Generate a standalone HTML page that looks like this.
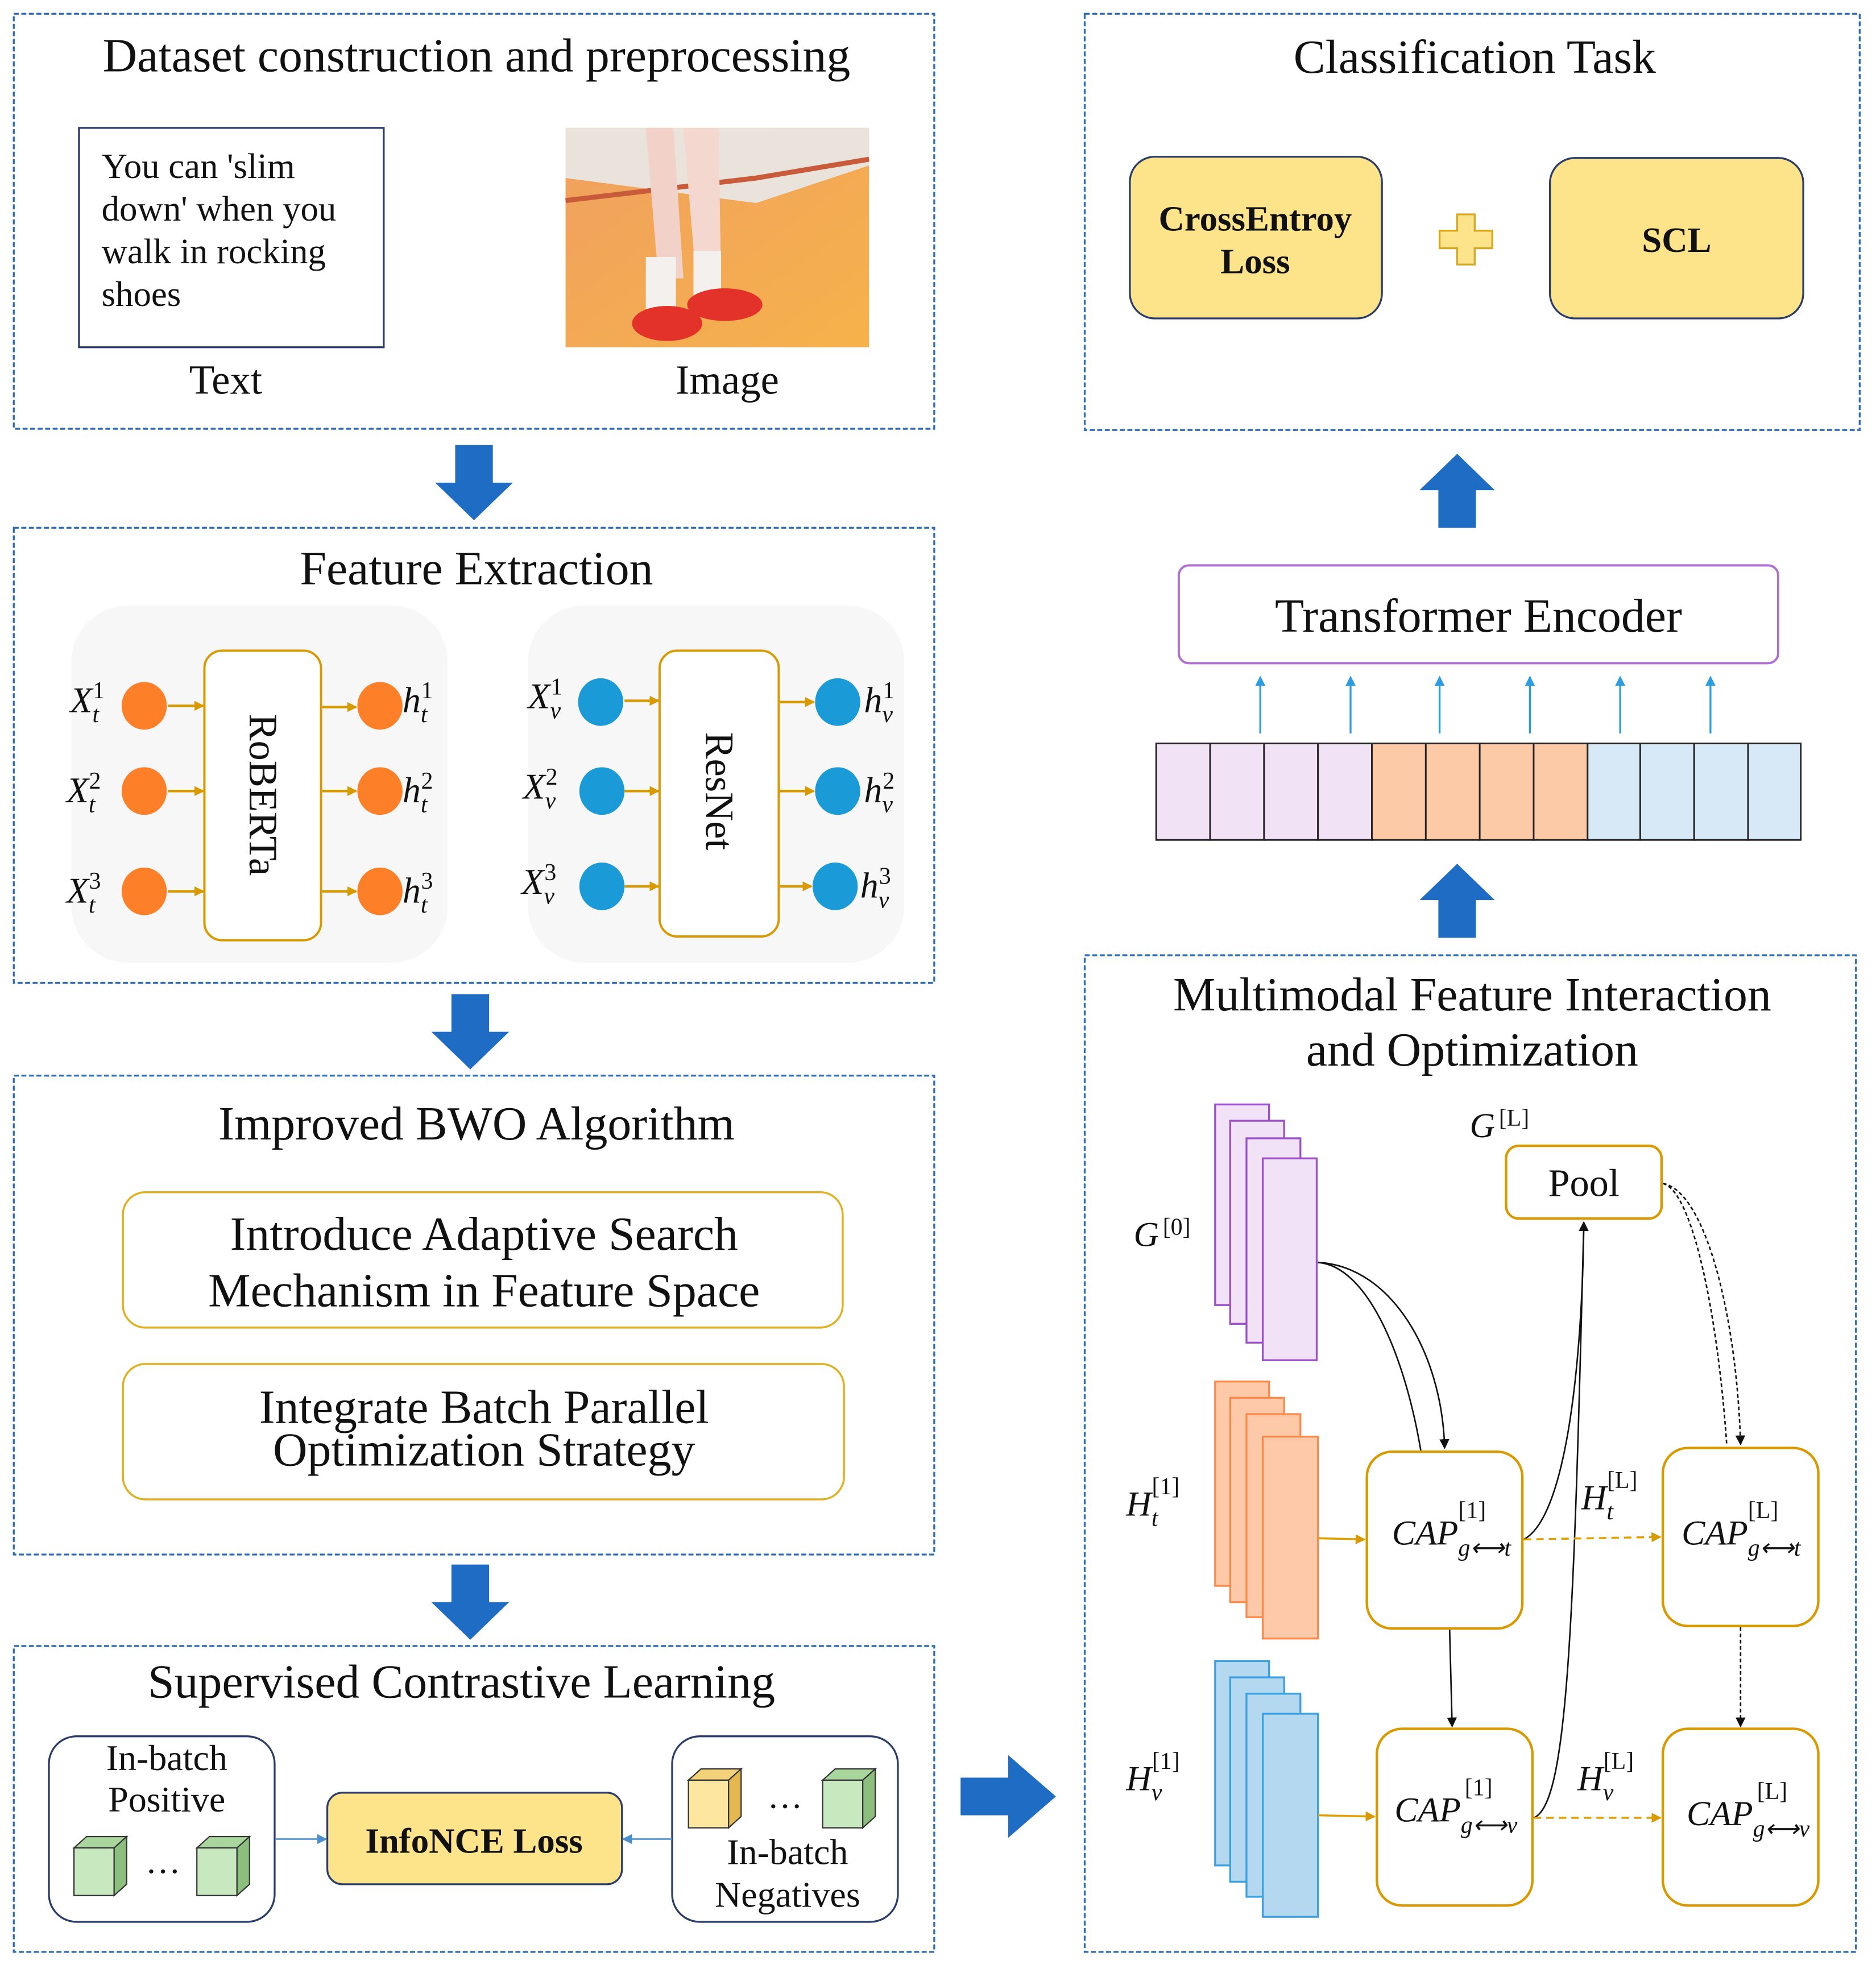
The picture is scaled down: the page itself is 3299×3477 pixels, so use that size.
<!DOCTYPE html>
<html><head><meta charset="utf-8"><style>
html,body{margin:0;padding:0;background:#fff}
svg{display:block}
text{font-family:"Liberation Serif",serif;fill:#111}
.it{font-style:italic}
</style></head><body>
<svg width="3299" height="3477" viewBox="0 0 1496 1577" preserveAspectRatio="none" xmlns="http://www.w3.org/2000/svg">
<defs>
<marker id="ao" markerWidth="8" markerHeight="8" refX="7" refY="4" orient="auto" markerUnits="userSpaceOnUse"><path d="M0,0L8,4L0,8z" fill="#d89a00"/></marker>
<marker id="ak" markerWidth="8" markerHeight="8" refX="7" refY="4" orient="auto" markerUnits="userSpaceOnUse"><path d="M0,0L8,4L0,8z" fill="#111"/></marker>
<marker id="ab" markerWidth="8" markerHeight="8" refX="7" refY="4" orient="auto" markerUnits="userSpaceOnUse"><path d="M0,0L8,4L0,8z" fill="#2b9de0"/></marker>
<marker id="abl" markerWidth="8" markerHeight="8" refX="7" refY="4" orient="auto" markerUnits="userSpaceOnUse"><path d="M0,0L8,4L0,8z" fill="#4a90d0"/></marker>
<linearGradient id="floor" x1="0" y1="0" x2="1" y2="1"><stop offset="0" stop-color="#f0a060"/><stop offset="1" stop-color="#f6b24a"/></linearGradient>
</defs>
<g fill="none" stroke="#2e6db5" stroke-width="1.5" stroke-dasharray="4,2">
<rect x="11" y="11" width="734" height="331"/>
<rect x="11" y="421" width="734" height="363"/>
<rect x="11" y="858" width="734" height="382"/>
<rect x="11" y="1313" width="734" height="244"/>
<rect x="865" y="11" width="618" height="332"/>
<rect x="865" y="762" width="615" height="795"/>
</g>
<g fill="#1f6cc4">
<path d="M363,355h30v30h16l-31,30l-31,-30h16z"/>
<path d="M360,793h30v30h16l-31,30l-31,-30h16z"/>
<path d="M360,1248h30v30h16l-31,30l-31,-30h16z"/>
<path d="M766,1418h38v-18l38,33l-38,33v-18h-38z"/>
<path d="M1147,421h30v-30h15l-30,-29l-30,29h15z"/>
<path d="M1147,748h30v-30h15l-30,-29l-30,29h15z"/>
</g>
<!-- box 1 -->
<text x="380" y="57" font-size="38" text-anchor="middle">Dataset construction and preprocessing</text>
<rect x="63" y="102" width="243" height="175" fill="#fff" stroke="#2a3c6a" stroke-width="1.5"/>
<text font-size="28.5"><tspan x="81" y="142">You can 'slim</tspan><tspan x="81" y="176">down' when you</tspan><tspan x="81" y="210">walk in rocking</tspan><tspan x="81" y="244">shoes</tspan></text>
<text x="180" y="314" font-size="33" text-anchor="middle">Text</text>
<rect x="451" y="102" width="242" height="175" fill="url(#floor)"/>
<path d="M451,102h242v30l-90,30l-152,-20z" fill="#e9e3dc"/>
<path d="M451,160l152,-18l90,-15" stroke="#c85c3a" stroke-width="4" fill="none"/>
<path d="M515,102l10,120h20l-8,-120z" fill="#f2d2c8"/>
<path d="M545,102l10,120h20l-2,-120z" fill="#f4d8cf"/>
<rect x="515" y="205" width="24" height="45" fill="#f4f0ee"/>
<rect x="553" y="200" width="22" height="40" fill="#f4f0ee"/>
<ellipse cx="532" cy="258" rx="28" ry="14" fill="#e3322a"/>
<ellipse cx="578" cy="243" rx="30" ry="13" fill="#e3322a"/>
<text x="580" y="314" font-size="33" text-anchor="middle">Image</text>
<!-- box 2 -->
<text x="380" y="466" font-size="38" text-anchor="middle">Feature Extraction</text>
<rect x="57" y="483" width="300" height="285" rx="45" fill="#f7f7f7"/>
<rect x="421" y="483" width="300" height="285" rx="45" fill="#f7f7f7"/>
<rect x="163" y="519" width="93" height="231" rx="14" fill="#fff" stroke="#d89a00" stroke-width="1.8"/>
<rect x="526" y="519" width="95" height="228" rx="14" fill="#fff" stroke="#d89a00" stroke-width="1.8"/>
<text transform="translate(199,634) rotate(90)" font-size="32" text-anchor="middle">RoBERTa</text>
<text transform="translate(563,631) rotate(90)" font-size="32" text-anchor="middle">ResNet</text>
<g fill="#fd7f27">
<ellipse cx="115" cy="563" rx="18" ry="19"/><ellipse cx="115" cy="631" rx="18" ry="19"/><ellipse cx="115" cy="711" rx="18" ry="19"/>
<ellipse cx="303" cy="563" rx="18" ry="19"/><ellipse cx="303" cy="631" rx="18" ry="19"/><ellipse cx="303" cy="711" rx="18" ry="19"/>
</g>
<g fill="#1a9ad6">
<ellipse cx="479" cy="560" rx="18" ry="19"/><ellipse cx="480" cy="631" rx="18" ry="19"/><ellipse cx="480" cy="707" rx="18" ry="19"/>
<ellipse cx="668" cy="560" rx="18" ry="19"/><ellipse cx="668" cy="631" rx="18" ry="19"/><ellipse cx="666" cy="707" rx="18" ry="19"/>
</g>
<g stroke="#d89a00" stroke-width="2" marker-end="url(#ao)">
<line x1="134" y1="563" x2="162" y2="563"/><line x1="134" y1="631" x2="162" y2="631"/><line x1="134" y1="711" x2="162" y2="711"/>
<line x1="257" y1="564" x2="284" y2="564"/><line x1="257" y1="631" x2="284" y2="631"/><line x1="257" y1="711" x2="284" y2="711"/>
<line x1="498" y1="559" x2="525" y2="559"/><line x1="498" y1="631" x2="525" y2="631"/><line x1="498" y1="707" x2="525" y2="707"/>
<line x1="622" y1="560" x2="649" y2="560"/><line x1="622" y1="631" x2="649" y2="631"/><line x1="622" y1="707" x2="647" y2="707"/>
</g>
<g font-size="29">
<text x="56" y="568" class="it">X<tspan font-size="19" dy="8">t</tspan><tspan font-size="19" dx="-5" dy="-19" font-style="normal">1</tspan></text>
<text x="53" y="640" class="it">X<tspan font-size="19" dy="8">t</tspan><tspan font-size="19" dx="-5" dy="-19" font-style="normal">2</tspan></text>
<text x="53" y="720" class="it">X<tspan font-size="19" dy="8">t</tspan><tspan font-size="19" dx="-5" dy="-19" font-style="normal">3</tspan></text>
<text x="321" y="568" class="it">h<tspan font-size="19" dy="8">t</tspan><tspan font-size="19" dx="-5" dy="-19" font-style="normal">1</tspan></text>
<text x="321" y="640" class="it">h<tspan font-size="19" dy="8">t</tspan><tspan font-size="19" dx="-5" dy="-19" font-style="normal">2</tspan></text>
<text x="321" y="720" class="it">h<tspan font-size="19" dy="8">t</tspan><tspan font-size="19" dx="-5" dy="-19" font-style="normal">3</tspan></text>
<text x="421" y="565" class="it">X<tspan font-size="19" dy="8">v</tspan><tspan font-size="19" dx="-8" dy="-19" font-style="normal">1</tspan></text>
<text x="417" y="637" class="it">X<tspan font-size="19" dy="8">v</tspan><tspan font-size="19" dx="-8" dy="-19" font-style="normal">2</tspan></text>
<text x="416" y="713" class="it">X<tspan font-size="19" dy="8">v</tspan><tspan font-size="19" dx="-8" dy="-19" font-style="normal">3</tspan></text>
<text x="689" y="568" class="it">h<tspan font-size="19" dy="8">v</tspan><tspan font-size="19" dx="-8" dy="-19" font-style="normal">1</tspan></text>
<text x="689" y="640" class="it">h<tspan font-size="19" dy="8">v</tspan><tspan font-size="19" dx="-8" dy="-19" font-style="normal">2</tspan></text>
<text x="686" y="716" class="it">h<tspan font-size="19" dy="8">v</tspan><tspan font-size="19" dx="-8" dy="-19" font-style="normal">3</tspan></text>
</g>
<!-- box 3 -->
<text x="380" y="909" font-size="38" text-anchor="middle">Improved BWO Algorithm</text>
<rect x="98" y="951" width="574" height="108" rx="18" fill="#fff" stroke="#e0b020" stroke-width="1.6"/>
<rect x="98" y="1088" width="575" height="108" rx="18" fill="#fff" stroke="#e0b020" stroke-width="1.6"/>
<text x="386" y="997" font-size="38" text-anchor="middle">Introduce Adaptive Search</text>
<text x="386" y="1042" font-size="38" text-anchor="middle">Mechanism in Feature Space</text>
<text x="386" y="1135" font-size="38" text-anchor="middle">Integrate Batch Parallel</text>
<text x="386" y="1169" font-size="38" text-anchor="middle">Optimization Strategy</text>
<!-- box 4 -->
<text x="368" y="1354" font-size="38" text-anchor="middle">Supervised Contrastive Learning</text>
<rect x="39" y="1385" width="180" height="148" rx="22" fill="#fff" stroke="#2a3c6a" stroke-width="1.5"/>
<rect x="536" y="1385" width="180" height="148" rx="22" fill="#fff" stroke="#2a3c6a" stroke-width="1.5"/>
<rect x="261" y="1430" width="235" height="73" rx="12" fill="#fde38a" stroke="#2a3c6a" stroke-width="1.5"/>
<text x="378" y="1478" font-size="28.5" font-weight="bold" text-anchor="middle">InfoNCE Loss</text>
<text x="133" y="1412" font-size="29" text-anchor="middle">In-batch</text>
<text x="133" y="1445" font-size="29" text-anchor="middle">Positive</text>
<text x="628" y="1487" font-size="29" text-anchor="middle">In-batch</text>
<text x="628" y="1521" font-size="29" text-anchor="middle">Negatives</text>
<text x="130" y="1494" font-size="28" text-anchor="middle">…</text>
<text x="626" y="1442" font-size="28" text-anchor="middle">…</text>
<g stroke="#333" stroke-width="1">
<path d="M59,1474l10,-9h32l-10,9z" fill="#a9d69c"/><rect x="59" y="1474" width="32" height="38" fill="#c8e8c0"/><path d="M91,1474l10,-9v38l-10,9z" fill="#8cbf7e"/>
<path d="M157,1474l10,-9h32l-10,9z" fill="#a9d69c"/><rect x="157" y="1474" width="32" height="38" fill="#c8e8c0"/><path d="M189,1474l10,-9v38l-10,9z" fill="#8cbf7e"/>
<path d="M549,1420l10,-9h32l-10,9z" fill="#f4d27a"/><rect x="549" y="1420" width="32" height="38" fill="#fde6a0"/><path d="M581,1420l10,-9v38l-10,9z" fill="#e4b850"/>
<path d="M656,1420l10,-9h32l-10,9z" fill="#a9d69c"/><rect x="656" y="1420" width="32" height="38" fill="#c8e8c0"/><path d="M688,1420l10,-9v38l-10,9z" fill="#8cbf7e"/>
</g>
<line x1="220" y1="1467" x2="260" y2="1467" stroke="#4a90d0" stroke-width="1.2" marker-end="url(#abl)"/>
<line x1="536" y1="1467" x2="497" y2="1467" stroke="#4a90d0" stroke-width="1.2" marker-end="url(#abl)"/>
<!-- classification -->
<text x="1176" y="58" font-size="38" text-anchor="middle">Classification Task</text>
<rect x="901" y="125" width="201" height="129" rx="20" fill="#fde38a" stroke="#2a3c6a" stroke-width="1.5"/>
<rect x="1236" y="126" width="202" height="128" rx="20" fill="#fde38a" stroke="#2a3c6a" stroke-width="1.5"/>
<text x="1001" y="184" font-size="28.5" font-weight="bold" text-anchor="middle">CrossEntroy</text>
<text x="1001" y="218" font-size="28.5" font-weight="bold" text-anchor="middle">Loss</text>
<text x="1337" y="201" font-size="28.5" font-weight="bold" text-anchor="middle">SCL</text>
<path d="M1162,171h14v13h14v14h-14v13h-14v-13h-14v-14h14z" fill="#fde38a" stroke="#d8a820" stroke-width="1.5"/>
<!-- transformer -->
<rect x="940" y="451" width="478" height="78" rx="8" fill="#fff" stroke="#b070d0" stroke-width="1.8"/>
<text x="1179" y="504" font-size="38" text-anchor="middle">Transformer Encoder</text>
<g stroke="#2b9de0" stroke-width="1.5" marker-end="url(#ab)">
<line x1="1005" y1="585" x2="1005" y2="540"/><line x1="1077" y1="585" x2="1077" y2="540"/><line x1="1148" y1="585" x2="1148" y2="540"/>
<line x1="1220" y1="585" x2="1220" y2="540"/><line x1="1292" y1="585" x2="1292" y2="540"/><line x1="1364" y1="585" x2="1364" y2="540"/>
</g>
<g stroke="#222" stroke-width="1.3">
<rect x="922" y="593" width="43" height="77" fill="#f1e2f5"/><rect x="965" y="593" width="43" height="77" fill="#f1e2f5"/><rect x="1008" y="593" width="43" height="77" fill="#f1e2f5"/><rect x="1051" y="593" width="43" height="77" fill="#f1e2f5"/>
<rect x="1094" y="593" width="43" height="77" fill="#fdcaa8"/><rect x="1137" y="593" width="43" height="77" fill="#fdcaa8"/><rect x="1180" y="593" width="43" height="77" fill="#fdcaa8"/><rect x="1223" y="593" width="43" height="77" fill="#fdcaa8"/>
<rect x="1266" y="593" width="42" height="77" fill="#d7e9f6"/><rect x="1308" y="593" width="43" height="77" fill="#d7e9f6"/><rect x="1351" y="593" width="43" height="77" fill="#d7e9f6"/><rect x="1394" y="593" width="42" height="77" fill="#d7e9f6"/>
</g>
<!-- multimodal -->
<text x="1174" y="806" font-size="38" text-anchor="middle">Multimodal Feature Interaction</text>
<text x="1174" y="850" font-size="38" text-anchor="middle">and Optimization</text>
<g stroke="#9b4fc9" stroke-width="1.5" fill="#f1e2f7">
<rect x="969" y="881" width="43" height="160"/><rect x="981" y="894" width="43" height="162"/><rect x="994" y="908" width="43" height="163"/><rect x="1007" y="924" width="43" height="161"/>
</g>
<g stroke="#fb8a4a" stroke-width="1.5" fill="#fec9a9">
<rect x="969" y="1102" width="43" height="163"/><rect x="981" y="1115" width="43" height="163"/><rect x="994" y="1128" width="43" height="162"/><rect x="1007" y="1146" width="44" height="161"/>
</g>
<g stroke="#3aa0e0" stroke-width="1.5" fill="#b4d8ef">
<rect x="969" y="1325" width="43" height="163"/><rect x="981" y="1338" width="43" height="163"/><rect x="994" y="1351" width="43" height="162"/><rect x="1007" y="1367" width="44" height="162"/>
</g>
<g fill="#fff" stroke="#d89a00" stroke-width="2">
<rect x="1090" y="1158" width="124" height="141" rx="20"/>
<rect x="1326" y="1155" width="124" height="142" rx="20"/>
<rect x="1098" y="1379" width="124" height="141" rx="20"/>
<rect x="1326" y="1379" width="124" height="141" rx="20"/>
<rect x="1201" y="914" width="124" height="58" rx="10"/>
</g>
<text x="1263" y="954" font-size="31" text-anchor="middle">Pool</text>
<g font-size="28" class="it">
<text x="1110" y="1232">CAP<tspan font-size="19" dy="9">g⟷t</tspan><tspan font-size="19" dx="-42" dy="-30" font-style="normal">[1]</tspan></text>
<text x="1341" y="1232">CAP<tspan font-size="19" dy="9">g⟷t</tspan><tspan font-size="19" dx="-42" dy="-30" font-style="normal">[L]</tspan></text>
<text x="1112" y="1453">CAP<tspan font-size="19" dy="9">g⟷v</tspan><tspan font-size="19" dx="-42" dy="-30" font-style="normal">[1]</tspan></text>
<text x="1345" y="1456">CAP<tspan font-size="19" dy="9">g⟷v</tspan><tspan font-size="19" dx="-42" dy="-30" font-style="normal">[L]</tspan></text>
<text x="904" y="994">G<tspan font-size="19" dx="3" dy="-9" font-style="normal">[0]</tspan></text>
<text x="1172" y="907">G<tspan font-size="19" dx="3" dy="-9" font-style="normal">[L]</tspan></text>
<text x="898" y="1209">H<tspan font-size="19" dy="8">t</tspan><tspan font-size="19" dx="-5" dy="-25" font-style="normal">[1]</tspan></text>
<text x="898" y="1428">H<tspan font-size="19" dy="8">v</tspan><tspan font-size="19" dx="-8" dy="-25" font-style="normal">[1]</tspan></text>
<text x="1261" y="1204">H<tspan font-size="19" dy="8">t</tspan><tspan font-size="19" dx="-5" dy="-25" font-style="normal">[L]</tspan></text>
<text x="1258" y="1428">H<tspan font-size="19" dy="8">v</tspan><tspan font-size="19" dx="-8" dy="-25" font-style="normal">[L]</tspan></text>
</g>
<g fill="none" stroke="#111" stroke-width="1.2">
<path d="M1051,1007C1090,1010 1120,1080 1133,1157"/>
<path d="M1051,1007C1110,1010 1150,1080 1152,1155" marker-end="url(#ak)"/>
<path d="M1215,1228C1250,1210 1262,1080 1263,975" marker-end="url(#ak)"/>
<path d="M1223,1450C1250,1440 1255,1300 1263,975"/>
<path d="M1156,1300L1158,1377" marker-end="url(#ak)"/>
<path d="M1326,944C1350,950 1370,1050 1377,1153" stroke-dasharray="3,2"/>
<path d="M1326,944C1360,950 1385,1050 1388,1152" stroke-dasharray="3,2" marker-end="url(#ak)"/>
<path d="M1388,1298L1388,1377" stroke-dasharray="3,2" marker-end="url(#ak)"/>
</g>
<g stroke="#e0a000" stroke-width="1.6" fill="none">
<line x1="1051" y1="1227" x2="1088" y2="1228" marker-end="url(#ao)"/>
<line x1="1051" y1="1448" x2="1096" y2="1449" marker-end="url(#ao)"/>
<line x1="1215" y1="1228" x2="1324" y2="1226" stroke-dasharray="6,4" marker-end="url(#ao)"/>
<line x1="1223" y1="1450" x2="1324" y2="1450" stroke-dasharray="6,4" marker-end="url(#ao)"/>
</g>
</svg>
</body></html>
